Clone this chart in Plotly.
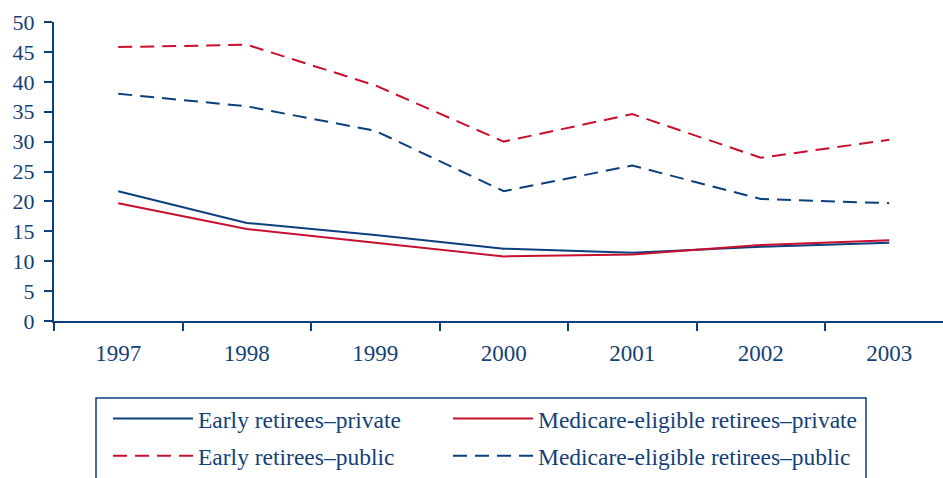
import plotly.graph_objects as go

years = ["1997", "1998", "1999", "2000", "2001", "2002", "2003"]
early_private = [21.7, 16.4, 14.4, 12.1, 11.4, 12.4, 13.1]
medicare_private = [19.7, 15.4, 13.1, 10.8, 11.1, 12.7, 13.5]
early_public = [45.8, 46.2, 39.4, 30.0, 34.6, 27.3, 30.3]
medicare_public = [38.0, 35.9, 31.8, 21.7, 26.0, 20.4, 19.7]
y_ticks = [0, 5, 10, 15, 20, 25, 30, 35, 40, 45, 50]

BLUE = "#0b3f7d"
RED = "#c8102e"
TXT = "#153f78"
FONT = "Liberation Serif"

series = [
    ("Early retirees\u2013private", early_private, BLUE, "solid", "legend"),
    ("Medicare-eligible retirees\u2013private", medicare_private, RED, "solid", "legend2"),
    ("Early retirees\u2013public", early_public, RED, "14px,8px", "legend3"),
    ("Medicare-eligible retirees\u2013public", medicare_public, BLUE, "14px,8px", "legend4"),
]

fig = go.Figure()
for name, vals, col, dash, lg in series:
    fig.add_trace(go.Scatter(x=years, y=vals, name=name, mode="lines",
                             line=dict(color=col, width=2, dash=dash), legend=lg))

W, H = 943, 478
L, T, B, R = 54, 22, 153, 0
pw = W - L - R
ph = H - T - B

def px_x(x):
    return (x - L) / pw

def px_y(y):
    return (H - B - y) / ph

legend_common = dict(font=dict(family=FONT, size=23.5, color=TXT), bgcolor="rgba(0,0,0,0)",
                     itemwidth=80, xanchor="left", yanchor="middle")
pos = {"legend": (108, 424), "legend2": (448, 424), "legend3": (108, 462), "legend4": (448, 462)}
layout_legends = {}
for k, (x, y) in pos.items():
    layout_legends[k] = dict(legend_common, x=px_x(x), y=px_y(y))

fig.update_layout(
    width=W, height=H,
    margin=dict(l=L, r=R, t=T, b=B, pad=0),
    paper_bgcolor="white", plot_bgcolor="white",
    font=dict(family=FONT, size=22, color=TXT),
    showlegend=True,
    xaxis=dict(range=[-0.5, -0.5 + pw / 128.5], tickson="boundaries", ticks="outside",
               ticklen=8, tickwidth=2, tickcolor=BLUE, showline=True, linecolor=BLUE,
               linewidth=2, showgrid=False, zeroline=False, ticklabelstandoff=10,
               tickfont=dict(family=FONT, size=23, color=TXT)),
    yaxis=dict(range=[0, 50], tickvals=y_ticks, ticks="outside", ticklen=8, tickwidth=2,
               tickcolor=BLUE, showline=True, linecolor=BLUE, linewidth=2, showgrid=False,
               zeroline=False, ticklabelstandoff=5,
               tickfont=dict(family=FONT, size=22, color=TXT)),
    shapes=[dict(type="rect", xref="paper", yref="paper", x0=px_x(96), x1=px_x(866),
                 y0=px_y(490), y1=px_y(403), line=dict(color=BLUE, width=1.5))],
    **layout_legends,
)

fig.write_html("out.html", config={"displayModeBar": False},
               post_script="document.body.style.margin='0';document.body.style.overflow='hidden';")
